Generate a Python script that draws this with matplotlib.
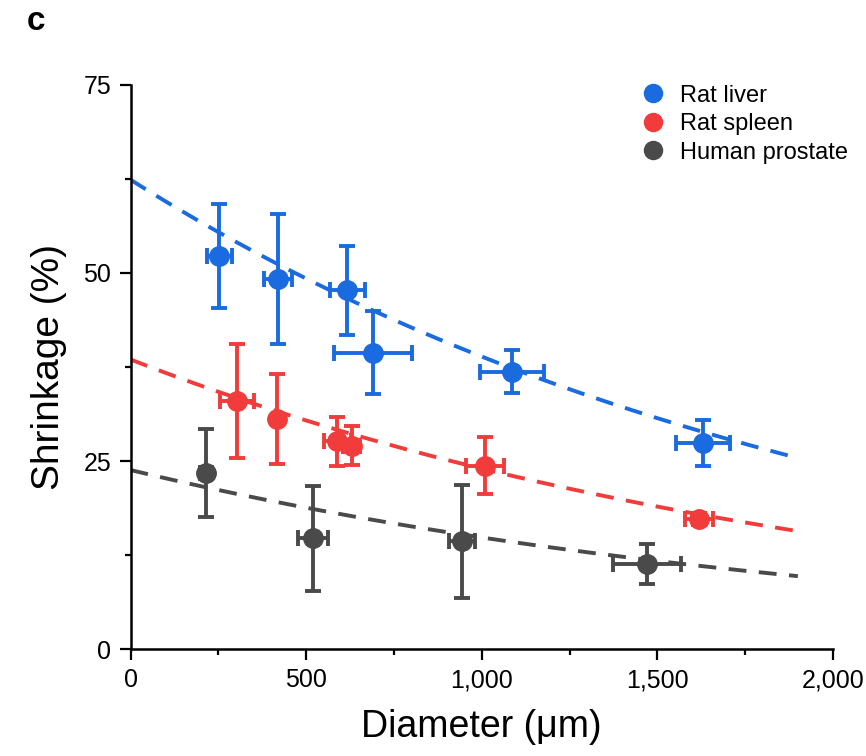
import numpy as np
import matplotlib
matplotlib.use('Agg')
import matplotlib.pyplot as plt
from matplotlib.lines import Line2D
from matplotlib.ticker import FuncFormatter, MultipleLocator

plt.rcParams['font.family'] = ['Liberation Sans', 'DejaVu Sans']

# values
names = ['Rat liver', 'Rat spleen', 'Human prostate']
colors = ['#1a6ae0', '#f23c3c', '#4a4a4a']

liver_x = [253, 419, 617, 689, 1086, 1630]
liver_xerr = [35, 40, 50, 111, 92, 77]
liver_y = [52.3, 49.2, 47.7, 39.4, 36.9, 27.4]
liver_yerr = [6.9, 8.6, 5.9, 5.5, 2.8, 3.0]

spleen_x = [304, 416, 589, 630, 1009, 1619]
spleen_xerr = [49, 10, 38, 24, 55, 40]
spleen_y = [33.0, 30.6, 27.6, 27.05, 24.4, 17.3]
spleen_yerr = [7.6, 6.0, 3.3, 2.6, 3.8, 0.8]

prostate_x = [215, 520, 943, 1471]
prostate_xerr = [18, 43, 37, 97]
prostate_y = [23.4, 14.7, 14.3, 11.3]
prostate_yerr = [5.9, 7.0, 7.5, 2.6]

# exponential fit y = a * exp(-k x), parameters
fit_a = [62.4, 38.5, 23.8]
fit_k = 0.000473
fit_xmax = 1900

series = [
    (liver_x, liver_xerr, liver_y, liver_yerr),
    (spleen_x, spleen_xerr, spleen_y, spleen_yerr),
    (prostate_x, prostate_xerr, prostate_y, prostate_yerr),
]

fig = plt.figure(figsize=(8.66, 7.56), dpi=100)
ax = fig.add_axes([0.1507, 0.1415, 0.8112, 0.7461])

xx = np.linspace(0, fit_xmax, 200)
for (x, xe, y, ye), a, c in zip(series, fit_a, colors):
    ax.plot(xx, a * np.exp(-fit_k * xx), color=c, lw=2.8,
            dashes=(4.6, 3.2), zorder=2)
    ax.errorbar(x, y, xerr=xe, yerr=ye, fmt='o', color=c, ms=14,
                elinewidth=2.8, capsize=6, capthick=2.8, zorder=3,
                clip_on=False)

ax.set_xlim(0, 2000)
ax.set_ylim(0, 75)
ax.xaxis.set_major_locator(MultipleLocator(500))
ax.xaxis.set_minor_locator(MultipleLocator(250))
ax.yaxis.set_major_locator(MultipleLocator(25))
ax.yaxis.set_minor_locator(MultipleLocator(12.5))
ax.xaxis.set_major_formatter(FuncFormatter(lambda v, p: f'{int(v):,}'))
ax.tick_params(which='major', length=8, width=1.6, labelsize=18, pad=6)
ax.tick_params(which='minor', length=4.5, width=1.6)
for s in ['top', 'right']:
    ax.spines[s].set_visible(False)
for s in ['left', 'bottom']:
    ax.spines[s].set_linewidth(1.8)

ax.set_xlabel('Diameter (\u03bcm)', fontsize=27, labelpad=12)
ax.set_ylabel('Shrinkage (%)', fontsize=28, labelpad=12)

handles = [Line2D([], [], ls='none', marker='o', ms=13, color=c) for c in colors]
fig.legend(handles, names, loc='upper left', bbox_to_anchor=(0.713, 0.916),
           frameon=False, fontsize=17, handletextpad=0.55, labelspacing=0.27,
           handlelength=1.2)

fig.text(0.031, 0.960, 'c', fontsize=24, fontweight='bold', va='baseline')

fig.savefig('out.png', dpi=100, facecolor='white')
